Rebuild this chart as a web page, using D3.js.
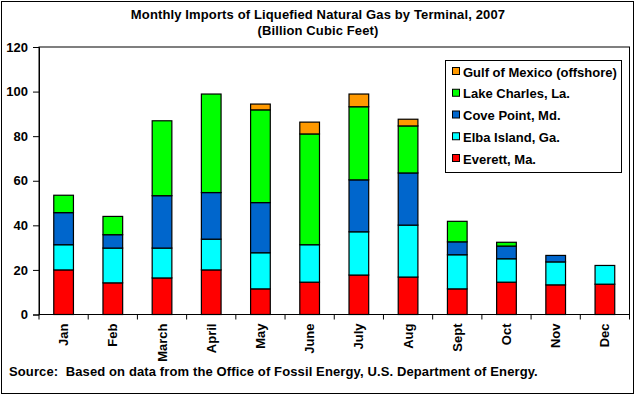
<!DOCTYPE html>
<html>
<head>
<meta charset="utf-8">
<script src="https://cdn.jsdelivr.net/npm/d3@7"></script>
<style>
  body { margin: 0; background: #fff; }
  text { font-family: "Liberation Sans", Arial, sans-serif; font-weight: bold; font-size: 13px; fill: #000; }
</style>
</head>
<body>
<div id="chart"></div>
<script>
const months = ["Jan", "Feb", "March", "April", "May", "June", "July", "Aug", "Sept", "Oct", "Nov", "Dec"];
const everett = [20.0, 14.2, 16.4, 20.0, 11.5, 14.5, 17.7, 16.8, 11.5, 14.5, 13.3, 13.6];
const elba = [11.3, 15.6, 13.4, 13.8, 16.2, 16.8, 19.4, 23.3, 15.3, 10.5, 10.3, 8.4];
const covePoint = [14.4, 6.0, 23.5, 20.9, 22.5, 0, 23.3, 23.4, 5.8, 5.7, 2.9, 0];
const lakeCharles = [7.8, 8.2, 33.6, 44.2, 41.6, 49.7, 32.8, 21.1, 9.2, 1.7, 0, 0];
const gulf = [0, 0, 0, 0, 2.6, 5.3, 5.7, 3.0, 0, 0, 0, 0];
const yTicks = [0, 20, 40, 60, 80, 100, 120];

const series = [
  { key: "everett", name: "Everett, Ma.", values: everett, color: "#FF0000" },
  { key: "elba", name: "Elba Island, Ga.", values: elba, color: "#00FFFF" },
  { key: "cove", name: "Cove Point, Md.", values: covePoint, color: "#0066CC" },
  { key: "lake", name: "Lake Charles, La.", values: lakeCharles, color: "#00FF00" },
  { key: "gulf", name: "Gulf of Mexico (offshore)", values: gulf, color: "#FF9900" }
];

const width = 636, height = 396;
const plot = { left: 39, top: 47, right: 629.5, bottom: 314.5 };

const table = months.map((m, i) => {
  const row = { month: m };
  series.forEach(s => row[s.key] = s.values[i]);
  return row;
});

const stack = d3.stack().keys(series.map(s => s.key));
const layers = stack(table);

const x = d3.scaleBand().domain(months).range([plot.left, plot.right]).paddingInner(0.6).paddingOuter(0.3);
const y = d3.scaleLinear().domain([0, 120]).range([plot.bottom, plot.top]);
const color = d3.scaleOrdinal().domain(series.map(s => s.key)).range(series.map(s => s.color));

const svg = d3.select("#chart").append("svg")
  .attr("width", width)
  .attr("height", height);

// outer frame
svg.append("rect")
  .attr("x", 1.5).attr("y", 1.5)
  .attr("width", 632).attr("height", 392)
  .attr("fill", "#fff").attr("stroke", "#000").attr("stroke-width", 1);

// plot frame
svg.append("rect")
  .attr("x", plot.left).attr("y", plot.top)
  .attr("width", plot.right - plot.left).attr("height", plot.bottom - plot.top)
  .attr("fill", "#fff").attr("stroke", "#000").attr("stroke-width", 1);

// bars
svg.append("g").selectAll("g")
  .data(layers)
  .join("g")
  .attr("fill", d => color(d.key))
  .selectAll("rect")
  .data(d => d.filter(p => p[1] - p[0] > 0))
  .join("rect")
  .attr("x", d => x(d.data.month))
  .attr("y", d => y(d[1]))
  .attr("width", x.bandwidth())
  .attr("height", d => y(d[0]) - y(d[1]))
  .attr("stroke", "#000")
  .attr("stroke-width", 1.2);

// y axis
const yAxis = svg.append("g")
  .attr("transform", `translate(${plot.left},0)`)
  .call(d3.axisLeft(y).tickValues(yTicks).tickSize(6).tickPadding(5));
yAxis.select(".domain").attr("stroke", "#000");
yAxis.selectAll("text").style("font-size", "13px").style("font-family", null);

// x axis with ticks at category boundaries
const xAxis = svg.append("g")
  .attr("transform", `translate(0,${plot.bottom})`);
xAxis.append("line")
  .attr("x1", plot.left).attr("x2", plot.right)
  .attr("stroke", "#000");
const step = x.step();
xAxis.selectAll("line.tick")
  .data(d3.range(months.length + 1))
  .join("line")
  .attr("class", "tick")
  .attr("x1", i => plot.left + i * step)
  .attr("x2", i => plot.left + i * step)
  .attr("y1", 0).attr("y2", 5)
  .attr("stroke", "#000");
xAxis.selectAll("text")
  .data(months)
  .join("text")
  .attr("transform", d => `translate(${x(d) + x.bandwidth() / 2 + 4.5},${9}) rotate(-90)`)
  .attr("text-anchor", "end")
  .text(d => d);

// title
svg.append("text")
  .attr("x", 318).attr("y", 19)
  .attr("text-anchor", "middle")
  .style("letter-spacing", "0.13px")
  .text("Monthly Imports of Liquefied Natural Gas by Terminal, 2007");
svg.append("text")
  .attr("x", 318).attr("y", 35)
  .attr("text-anchor", "middle")
  .style("letter-spacing", "0.13px")
  .text("(Billion Cubic Feet)");

// legend
const legend = svg.append("g");
legend.append("rect")
  .attr("x", 445.5).attr("y", 60.5)
  .attr("width", 176).attr("height", 112)
  .attr("fill", "#fff").attr("stroke", "#000");
const legendItems = legend.selectAll("g.item")
  .data(series.slice().reverse())
  .join("g")
  .attr("class", "item")
  .attr("transform", (d, i) => `translate(452,${72 + i * 21.75})`);
legendItems.append("rect")
  .attr("x", 0.5).attr("y", -4.5)
  .attr("width", 7).attr("height", 7)
  .attr("fill", d => d.color)
  .attr("stroke", "#000");
legendItems.append("text")
  .attr("x", 11).attr("y", 4.5)
  .text(d => d.name);

// source note
svg.append("text")
  .attr("x", 9).attr("y", 376)
  .attr("xml:space", "preserve")
  .style("white-space", "pre")
  .style("letter-spacing", "0.12px")
  .text("Source:  Based on data from the Office of Fossil Energy, U.S. Department of Energy.");
</script>
</body>
</html>
